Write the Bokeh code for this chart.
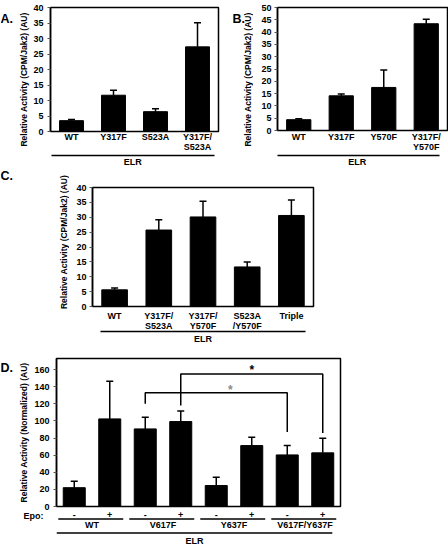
import math
from bokeh.plotting import figure
from bokeh.layouts import column, row
from bokeh.models import Range1d, FixedTicker, Whisker, TeeHead, ColumnDataSource, LinearAxis
from bokeh.embed import file_html
from bokeh.resources import INLINE
from bokeh.core.properties import value

FONT = "Liberation Sans"

# ---------------- data ----------------
y_label_cpm = "Relative Activity (CPM/Jak2) (AU)"
y_label_norm = "Relative Activity (Normalized) (AU)"
group_label = "ELR"

a_labels = ["WT", "Y317F", "S523A", "Y317F/\nS523A"]
a_values = [3.5, 11.7, 6.4, 27.3]
a_errors = [0.4, 1.6, 0.9, 7.8]
a_ticks = [0, 5, 10, 15, 20, 25, 30, 35, 40]

b_labels = ["WT", "Y317F", "Y570F", "Y317F/\nY570F"]
b_values = [4.4, 14.1, 17.5, 43.4]
b_errors = [0.4, 0.7, 7.1, 1.8]
b_ticks = [0, 5, 10, 15, 20, 25, 30, 35, 40, 45, 50]

c_labels = ["WT", "Y317F/\nS523A", "Y317F/\nY570F", "S523A\n/Y570F", "Triple"]
c_values = [5.6, 25.7, 30.1, 13.3, 30.6]
c_errors = [0.6, 3.5, 5.3, 1.7, 5.2]
c_ticks = [0, 5, 10, 15, 20, 25, 30, 35, 40]

d_groups = ["WT", "V617F", "Y637F", "V617F/Y637F"]
d_epo = ["-", "+"]
d_epo_label = "Epo:"
d_values = [22.0, 102.4, 90.7, 99.3, 24.5, 71.2, 60.3, 62.7]
d_errors = [7.6, 44.0, 13.6, 12.4, 9.8, 9.8, 10.9, 17.1]
d_ticks = [0, 20, 40, 60, 80, 100, 120, 140, 160]
d_ymax = 173
# significance brackets (bar index from -> to, leg bottoms, bracket height, star)
d_sig_from = [2, 3]
d_sig_to = [6, 7]
d_sig_left_base = [120, 118]
d_sig_right_base = [87, 86]
d_sig_top = [133, 155]
d_sig_star_x = [4.4, 5.0]
d_sig_star_y = [136, 159]
d_sig_star_color = ["#8a8a8a", "black"]


def style_yaxis(p, ticks, label, tick_standoff, label_standoff):
    ax = p.yaxis[0]
    ax.ticker = FixedTicker(ticks=ticks)
    ax.major_label_text_font = FONT
    ax.major_label_text_font_style = "bold"
    ax.major_label_text_font_size = "9px"
    ax.major_label_text_color = "black"
    ax.major_tick_out = 3
    ax.major_tick_in = 0
    ax.major_tick_line_color = "#555555"
    ax.minor_tick_line_color = None
    ax.major_label_standoff = tick_standoff
    ax.axis_line_color = "black"
    ax.axis_line_width = 1.5
    if label:
        ax.axis_label = label
        ax.axis_label_text_font = FONT
        ax.axis_label_text_font_style = "bold"
        ax.axis_label_text_font_size = "8.5px"
        ax.axis_label_text_color = "black"
        ax.axis_label_standoff = label_standoff


def label_style(ax, standoff):
    ax.major_label_text_font = FONT
    ax.major_label_text_font_style = "bold"
    ax.major_label_text_font_size = "9px"
    ax.major_label_text_color = "black"
    ax.major_tick_line_color = None
    ax.minor_tick_line_color = None
    ax.major_tick_out = 0
    ax.major_tick_in = 0
    ax.major_label_standoff = standoff


def category_axes(p, labels, x0, x1, cat_standoff, elr_standoff):
    # first axis: the category names
    ax = p.xaxis[0]
    idx = list(range(len(labels)))
    ax.ticker = FixedTicker(ticks=idx)
    ax.major_label_overrides = {i: t for i, t in zip(idx, labels)}
    label_style(ax, cat_standoff)
    ax.major_label_text_line_height = 1.05
    ax.axis_line_color = None
    # second axis: the ELR underline and its name
    mid = (x0 + x1) / 2
    ax2 = LinearAxis(ticker=FixedTicker(ticks=[mid]), major_label_overrides={mid: group_label},
                     bounds=(x0, x1), axis_line_color="black", axis_line_width=1.5)
    label_style(ax2, elr_standoff)
    p.add_layout(ax2, "below")


def blank(p):
    p.grid.visible = False
    p.background_fill_color = "white"
    p.border_fill_color = "white"


def main_fig(n, ymax, fw, fh, L, R, T, B, xaxis=True):
    p = figure(frame_width=fw, frame_height=fh, x_range=Range1d(-0.5, n - 0.5),
               y_range=Range1d(0, ymax), output_backend="svg", toolbar_location=None,
               x_axis_location="below" if xaxis else None,
               min_border_left=L, min_border_right=R, min_border_top=T, min_border_bottom=B)
    blank(p)
    p.outline_line_color = "black"
    p.outline_line_width = 1.5
    p.outline_line_alpha = 1.0
    return p


def strip_fig(main, fw, fh, L, R):
    s = figure(frame_width=fw, frame_height=fh, x_range=main.x_range, y_range=Range1d(fh, 0),
               output_backend="svg", toolbar_location=None, x_axis_location=None,
               y_axis_location="left", min_border_left=L, min_border_right=R,
               min_border_top=0, min_border_bottom=0)
    blank(s)
    s.outline_line_color = None
    s.yaxis.visible = False
    return s


def side_fig(w, h, letter, lx, ly, label=None, cx=0, cy=0):
    f = figure(frame_width=w, frame_height=h, x_range=Range1d(0, w), y_range=Range1d(h, 0),
               output_backend="svg", toolbar_location=None, x_axis_location=None,
               y_axis_location=None, min_border_left=0, min_border_right=0,
               min_border_top=0, min_border_bottom=0)
    blank(f)
    f.outline_line_color = None
    f.text(x=[lx], y=[ly], text=[letter], text_align="left", text_baseline="middle",
           text_font=value(FONT), text_font_style="bold", text_font_size="12.5px",
           text_color="black")
    if label:
        f.text(x=[cx], y=[cy], text=[label], angle=math.pi / 2, text_align="center",
               text_baseline="middle", text_font=value(FONT), text_font_style="bold",
               text_font_size="8.5px", text_color="black")
    return f


def add_bars(p, values, errors, bar_w, cap):
    idx = list(range(len(values)))
    src = ColumnDataSource(dict(x=idx, top=values,
                                upper=[v + e for v, e in zip(values, errors)]))
    p.vbar(x="x", top="top", width=bar_w, source=src, fill_color="black", line_color="black")
    w = Whisker(base="x", lower="top", upper="upper", source=src, dimension="height",
                line_color="black", line_width=1.5,
                upper_head=TeeHead(size=cap, line_color="black", line_width=1.5),
                lower_head=None)
    p.add_layout(w)


def txt(s, xs, y, texts, size="9px"):
    s.text(x=xs, y=[y] * len(xs), text=texts, text_align="center", text_baseline="middle",
           text_font=value(FONT), text_font_style="bold", text_font_size=size, text_color="black")


def underline(s, x0, x1, y):
    s.segment(x0=x0, y0=[y] * len(x0), x1=x1, y1=[y] * len(x0),
              line_color="black", line_width=1.5)


# ---------------- panel A  (x 0..224, y 0..170) ----------------
A_SW = 30
A_L, A_RX = 49, 217
A_T, A_BOT = 7, 131
pa = main_fig(len(a_values), 40, A_RX - A_L, A_BOT - A_T, A_L - A_SW, 224 - A_RX, A_T, 170 - A_BOT)
style_yaxis(pa, a_ticks, None, 4, 0)
add_bars(pa, a_values, a_errors, 0.57, 7)
category_axes(pa, a_labels, -0.48, len(a_values) - 0.6, 0, 1)
xa = side_fig(A_SW, 170, "A.", 0, 11, y_label_cpm, 23, 72)

# ---------------- panel B  (x 224..448, y 0..170) ----------------
B_X0 = 224
B_SW = 28
B_L, B_RX = 276, 446
B_T, B_BOT = 7, 130
pb = main_fig(len(b_values), 50, B_RX - B_L, B_BOT - B_T, B_L - B_X0 - B_SW, 448 - B_RX,
              B_T, 170 - B_BOT)
style_yaxis(pb, b_ticks, None, 3, 0)
add_bars(pb, b_values, b_errors, 0.57, 7)
category_axes(pb, b_labels, -0.55, len(b_values) - 0.7, 1, 1)
xb = side_fig(B_SW, 170, "B.", 7, 11, y_label_cpm, 246.5 - B_X0, 72)

# ---------------- panel C  (y 170..346) ----------------
C_Y0 = 170
C_SW = 69
C_L, C_RX = 92, 313
C_T, C_BOT = 187, 306
C_H = C_BOT + 4
pc = main_fig(len(c_values), 40, C_RX - C_L, C_BOT - C_T, C_L - C_SW, 448 - C_RX,
              C_T - C_Y0, C_H - C_BOT, xaxis=False)
style_yaxis(pc, c_ticks, None, 3, 0)
add_bars(pc, c_values, c_errors, 0.58, 7)
SC_H = 346 - C_H
sc = strip_fig(pc, C_RX - C_L, SC_H, C_L - C_SW, 448 - C_RX)
cidx = list(range(len(c_labels)))
txt(sc, cidx, 315 - C_H, [t.split("\n")[0] for t in c_labels])
txt(sc, cidx, 325 - C_H, [t.split("\n")[1] if "\n" in t else "" for t in c_labels])
cx0, cx1 = -0.32, len(c_values) - 0.68
underline(sc, [cx0], [cx1], 331 - C_H)
txt(sc, [(cx0 + cx1) / 2], 338.5 - C_H, [group_label])
xc = side_fig(C_SW, 346 - C_Y0, "C.", 0, 175 - C_Y0, y_label_cpm, 63, 241.5 - C_Y0)

# ---------------- panel D  (y 346..546) ----------------
nd = len(d_values)
D_Y0 = 346
D_LW = 14
D_L, D_RX = 56, 340
D_T, D_BOT = 358, 506
D_H = D_BOT + 4
pd_ = main_fig(nd, d_ymax, D_RX - D_L, D_BOT - D_T, D_L - D_LW, 448 - D_RX,
               D_T - D_Y0, D_H - D_BOT, xaxis=False)
style_yaxis(pd_, d_ticks, y_label_norm, 4, 2)
add_bars(pd_, d_values, d_errors, 0.62, 7)
xs = [[f, f, t, t] for f, t in zip(d_sig_from, d_sig_to)]
ys = [[lb_, top, top, rb] for lb_, top, rb in zip(d_sig_left_base, d_sig_top, d_sig_right_base)]
pd_.multi_line(xs=xs, ys=ys, line_color="black", line_width=1.5)
pd_.text(x=d_sig_star_x, y=d_sig_star_y, text=["*"] * len(d_sig_star_x), text_align="center",
         text_baseline="middle", text_font=value(FONT), text_font_style="bold",
         text_font_size="12px", text_color=d_sig_star_color)
ld = side_fig(D_LW, D_H - D_Y0, "D.", 0, 355 - D_Y0)

SD_H = 546 - D_H
sd = strip_fig(pd_, D_RX - D_L, SD_H, D_L, 448 - D_RX)
sd.yaxis.visible = True
epo_row = 514.5 - D_H
ay = sd.yaxis[0]
ay.ticker = FixedTicker(ticks=[epo_row])
ay.major_label_overrides = {epo_row: d_epo_label}
label_style(ay, 13)
ay.axis_line_color = None

txt(sd, list(range(nd)), epo_row, [d_epo[i % 2] for i in range(nd)])
ng = len(d_groups)
underline(sd, [2 * g - 0.45 for g in range(ng)], [2 * g + 1.38 for g in range(ng)], 518.5 - D_H)
txt(sd, [2 * g + 0.5 for g in range(ng)], 524.5 - D_H, d_groups)
dx0, dx1 = -0.5, nd - 0.73
underline(sd, [dx0], [dx1], 532.5 - D_H)
txt(sd, [(dx0 + dx1) / 2], 540 - D_H, [group_label])

layout = column(
    row(row(xa, pa, spacing=0), row(xb, pb, spacing=0), spacing=0),
    row(xc, column(pc, sc, spacing=0), spacing=0),
    column(row(ld, pd_, spacing=0), sd, spacing=0),
    spacing=0)

open("out.html", "w").write(file_html(layout, INLINE))
